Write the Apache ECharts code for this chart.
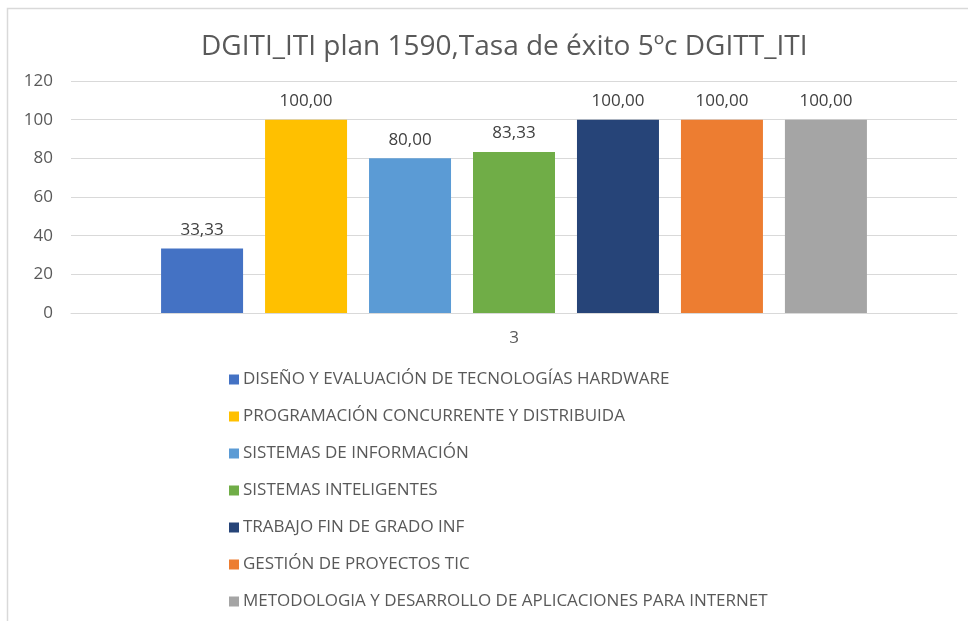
<!DOCTYPE html>
<html>
<head>
<meta charset="utf-8">
<script src="https://cdn.jsdelivr.net/npm/echarts@6/dist/echarts.min.js"></script>
<style>
  html, body { margin: 0; padding: 0; background: #fff; }
  #chart { width: 968px; height: 621px; }
</style>
</head>
<body>
<div id="chart"></div>
<script>
const titleText = 'DGITI_ITI plan 1590,Tasa de éxito 5ºc DGITT_ITI';
const categories = ['3'];
const seriesNames = [
  'DISEÑO Y EVALUACIÓN DE TECNOLOGÍAS HARDWARE',
  'PROGRAMACIÓN CONCURRENTE Y DISTRIBUIDA',
  'SISTEMAS DE INFORMACIÓN',
  'SISTEMAS INTELIGENTES',
  'TRABAJO FIN DE GRADO INF',
  'GESTIÓN DE PROYECTOS TIC',
  'METODOLOGIA Y DESARROLLO DE APLICACIONES PARA INTERNET'
];
const seriesValues = [33.33, 100, 80, 83.33, 100, 100, 100];
const seriesColors = ['#4472c4', '#ffc000', '#5b9bd5', '#70ad47', '#264478', '#ed7d31', '#a5a5a5'];
const yTicks = { min: 0, max: 120, interval: 20 };

const fontFamily = '"Open Sans", "Liberation Sans", sans-serif';

const chart = echarts.init(document.getElementById('chart'), null, { renderer: 'canvas' });

const series = seriesNames.map((name, i) => ({
  name: name,
  type: 'bar',
  data: [seriesValues[i]],
  barWidth: 82,
  barGap: '26.8%',
  itemStyle: { color: seriesColors[i] },
  label: {
    show: true,
    position: 'top',
    distance: 10,
    color: '#404040',
    fontSize: 17,
    fontFamily: fontFamily,
    formatter: p => p.value.toFixed(2).replace('.', ',')
  },
  emphasis: { disabled: true }
}));

chart.setOption({
  animation: false,
  backgroundColor: '#ffffff',
  graphic: [{
    type: 'rect',
    shape: { x: 7.5, y: 8.5, width: 1100, height: 800 },
    style: { fill: 'none', stroke: '#d9d9d9', lineWidth: 1.5 },
    silent: true
  }],
  title: {
    text: titleText,
    left: 196,
    top: 28,
    textStyle: { color: '#595959', fontSize: 28, fontWeight: 'normal', fontFamily: fontFamily }
  },
  grid: { left: 71, right: 11, top: 81, height: 232, containLabel: false },
  xAxis: {
    type: 'category',
    data: categories,
    axisLine: { show: true, lineStyle: { color: '#d9d9d9', width: 1 } },
    axisTick: { show: false },
    axisLabel: { color: '#595959', fontSize: 17, fontFamily: fontFamily, margin: 17 }
  },
  yAxis: {
    type: 'value',
    min: yTicks.min,
    max: yTicks.max,
    interval: yTicks.interval,
    axisLine: { show: false },
    axisTick: { show: false },
    splitLine: { lineStyle: { color: '#d9d9d9', width: 1 } },
    axisLabel: { color: '#595959', fontSize: 17, fontFamily: fontFamily, margin: 18 }
  },
  legend: {
    orient: 'vertical',
    left: 224,
    top: 366,
    itemWidth: 10,
    itemHeight: 10,
    itemGap: 20,
    icon: 'rect',
    textStyle: { color: '#595959', fontSize: 17, fontFamily: fontFamily, padding: [0, 0, 0, -1] },
    data: seriesNames
  },
  series: series
});
</script>
</body>
</html>
